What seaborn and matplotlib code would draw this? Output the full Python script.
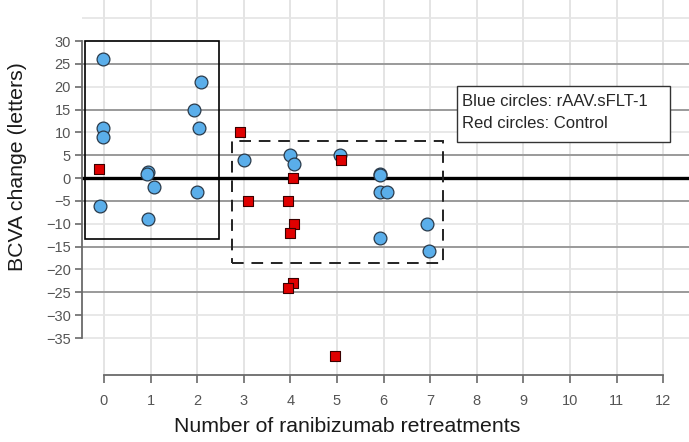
import matplotlib
matplotlib.use("Agg")
import matplotlib.pyplot as plt
from matplotlib.patches import Rectangle
import seaborn as sns
import pandas as pd

# rAAV.sFLT-1 (blue circles)
treated_x = [-0.01, -0.03, -0.03, -0.09, 0.95, 0.93, 1.08, 0.95, 2.08, 1.93, 2.04, 2.0,
             3.01, 3.99, 4.08, 5.06, 5.92, 5.92, 5.92, 6.08, 5.92, 6.94, 6.97]
treated_y = [26, 11, 9, -6, 1.3, 0.9, -2, -9, 21, 15, 11, -3,
             4, 5, 3, 5, 1, 0.7, -3, -3, -13, -10, -16]

# Control (red squares)
control_x = [-0.1, 2.92, 3.08, 3.94, 4.06, 4.08, 4.0, 4.06, 3.94, 5.08, 4.96]
control_y = [2, 10, -5, -5, 0, -10, -12, -23, -24, 4, -39]

x_ticks = list(range(0, 13))
y_ticks = list(range(-35, 31, 5))
dark_lines = [25, 15, 5, -5, -15, -25]

treated = pd.DataFrame({"x": treated_x, "y": treated_y})
control = pd.DataFrame({"x": control_x, "y": control_y})

sns.set_style("white")
plt.rcParams['font.family'] = ['Liberation Sans', 'DejaVu Sans']

fig = plt.figure(figsize=(6.89, 4.42), dpi=100)
ax = fig.add_axes([82 / 689, 67 / 442, 607 / 689, 375 / 442])

ax.set_xlim(-0.47, 12.55)
ax.set_ylim(-43.1, 39)

# light grid
for xv in x_ticks:
    ax.axvline(xv, color="#e2e2e2", lw=1.3, zorder=0)
for yv in y_ticks + [35]:
    ax.axhline(yv, color="#e6e6e6", lw=1.3, zorder=0)
for yv in dark_lines:
    ax.axhline(yv, color="#9a9a9a", lw=1.4, zorder=1)
ax.axhline(0, color="black", lw=2.4, zorder=2)

# boxes
ax.add_patch(Rectangle((-0.41, -13.3), 2.88, 43.3, fill=False, ec="black", lw=1.2, zorder=3))
ax.add_patch(Rectangle((2.75, -18.6), 4.52, 26.7, fill=False, ec="#222222", lw=1.4,
                       ls=(0, (6, 4)), zorder=3))

sns.scatterplot(data=treated, x="x", y="y", ax=ax, marker="o", s=85,
                color="#5aaeea", edgecolor="#2a3a4a", linewidth=0.9, zorder=4)
sns.scatterplot(data=control, x="x", y="y", ax=ax, marker="s", s=48,
                color="#e00000", edgecolor="#3a0000", linewidth=0.8, zorder=5)

for s in ["top", "right"]:
    ax.spines[s].set_visible(False)
ax.spines["left"].set_bounds(-35, 30)
ax.spines["bottom"].set_bounds(0, 12)
for s in ["left", "bottom"]:
    ax.spines[s].set_color("#6a6a6a")
    ax.spines[s].set_linewidth(1.3)

ax.set_xticks(x_ticks)
ax.set_yticks(y_ticks)
ax.set_yticklabels([str(v).replace("-", "\u2212") for v in y_ticks])
ax.tick_params(axis="y", length=5, width=1.2, color="#6a6a6a", labelcolor="#555555",
               labelsize=10.5, pad=3, left=True)
ax.tick_params(axis="x", length=6, width=1.2, color="#6a6a6a", labelcolor="#555555",
               labelsize=10.5, pad=8, bottom=True)

ax.set_xlabel("Number of ranibizumab retreatments", fontsize=15.3, color="#1a1a1a")
ax.set_ylabel("BCVA change (letters)", fontsize=15.3, color="#1a1a1a")
ax.xaxis.set_label_coords(0.437, -0.113)
ax.yaxis.set_label_coords(-0.09, 0.557)

# annotation box
fig.add_artist(Rectangle((457 / 689, 1 - 142 / 442), 213 / 689, 56 / 442,
                         transform=fig.transFigure, fill=True, fc="white",
                         ec="#333333", lw=1.0, zorder=10))
fig.text(462 / 689, 1 - 101 / 442, "Blue circles: rAAV.sFLT-1", fontsize=12,
         va="center", ha="left", zorder=11)
fig.text(462 / 689, 1 - 124 / 442, "Red circles: Control", fontsize=12,
         va="center", ha="left", zorder=11)

plt.savefig("out.png", dpi=100)
